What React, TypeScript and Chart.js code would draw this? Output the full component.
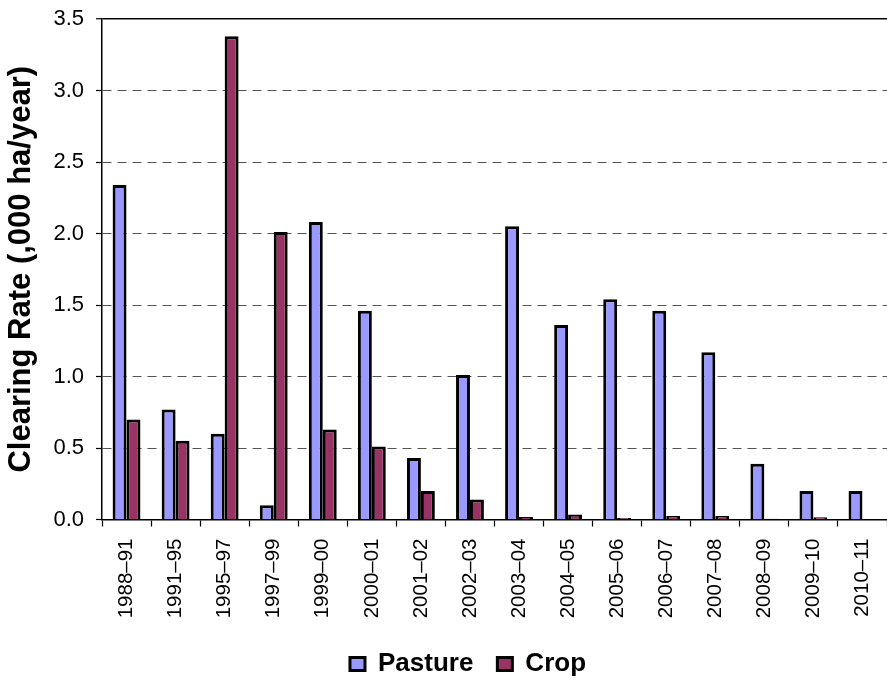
import React, { useEffect, useRef } from 'react';
import { Chart, registerables } from 'chart.js';

Chart.register(...registerables);

const categories = [
  '1988–91', '1991–95', '1995–97', '1997–99', '1999–00', '2000–01', '2001–02', '2002–03',
  '2003–04', '2004–05', '2005–06', '2006–07', '2007–08', '2008–09', '2009–10', '2010–11',
];
const pasture = [2.34, 0.77, 0.6, 0.1, 2.08, 1.46, 0.43, 1.01, 2.05, 1.36, 1.54, 1.46, 1.17, 0.39, 0.2, 0.2];
const crop = [0.7, 0.55, 3.38, 2.01, 0.63, 0.51, 0.2, 0.14, 0.017, 0.035, 0.01, 0.025, 0.025, 0.005, 0.015, 0];
const seriesNames = ['Pasture', 'Crop'];
const yAxisTitle = 'Clearing Rate (,000 ha/year)';
const yMin = 0;
const yMax = 3.5;
const yStep = 0.5;

const FONT = "'Liberation Sans', Arial, sans-serif";

export default function App() {
  const ref = useRef<HTMLCanvasElement>(null);

  useEffect(() => {
    const padLeft = 45;
    const chart = new Chart(ref.current as HTMLCanvasElement, {
      type: 'bar',
      data: {
        labels: categories,
        datasets: [
          {
            label: seriesNames[0],
            data: pasture,
            backgroundColor: '#9999FF',
            borderColor: '#000000',
            borderWidth: 3,
            borderSkipped: 'start',
            categoryPercentage: 0.568,
            barPercentage: 1,
          },
          {
            label: seriesNames[1],
            data: crop,
            backgroundColor: '#993366',
            borderColor: '#000000',
            borderWidth: 3,
            borderSkipped: 'start',
            categoryPercentage: 0.568,
            barPercentage: 1,
          },
        ],
      },
      options: {
        responsive: false,
        animation: false,
        devicePixelRatio: 1,
        layout: { padding: { left: padLeft, right: -4, top: 19, bottom: 1 } },
        plugins: {
          tooltip: { enabled: false },
          legend: {
            position: 'bottom',
            fullSize: true,
            labels: {
              boxWidth: 15,
              boxHeight: 13,
              padding: 24,
              color: '#000',
              font: { family: FONT, size: 26, weight: 'bold' },
            },
          },
        },
        scales: {
          x: {
            offset: true,
            grid: {
              display: true,
              drawOnChartArea: false,
              drawTicks: true,
              tickLength: 7,
              tickColor: '#000',
              tickWidth: 1.2,
              offset: true,
            },
            border: { display: true, color: '#000', width: 1.5 },
            ticks: {
              autoSkip: false,
              maxRotation: 90,
              minRotation: 90,
              padding: 12,
              color: '#000',
              font: { family: FONT, size: 20.5 },
            },
            afterFit: (s: any) => {
              s.height = 107.5;
              s.paddingLeft = 0;
              s.paddingRight = -4;
            },
          },
          y: {
            min: yMin,
            max: yMax,
            ticks: {
              stepSize: yStep,
              padding: 12,
              color: '#000',
              font: { family: FONT, size: 22 },
              callback: (v: any) => Number(v).toFixed(1),
            },
            grid: {
              color: (ctx: any) =>
                ctx.tick && ctx.tick.value === yMax ? '#000' : ctx.tick && ctx.tick.value === yMin ? 'rgba(0,0,0,0)' : '#555',
              lineWidth: (ctx: any) => (ctx.tick && ctx.tick.value === yMax ? 1.5 : 1),
              tickLength: 6,
              tickColor: '#000',
              tickWidth: 1.2,
            },
            border: {
              display: true,
              color: '#000',
              width: 1.5,
              dash: (ctx: any) => (ctx.tick && ctx.tick.value === yMax ? [] : [9, 6]),
            },
            title: {
              display: true,
              text: yAxisTitle,
              color: '#000',
              font: { family: FONT, size: 31, weight: 'bold' },
              padding: { top: 2.9 - padLeft, bottom: 0 },
            },
            afterFit: (s: any) => {
              s.width = 102 - padLeft;
              s.paddingTop = 0;
              s.paddingBottom = 0;
            },
          },
        },
      },
    } as any);
    return () => chart.destroy();
  }, []);

  return (
    <div style={{ position: 'absolute', left: 0, top: 0 }}>
      <canvas ref={ref} width={887} height={688} />
    </div>
  );
}
